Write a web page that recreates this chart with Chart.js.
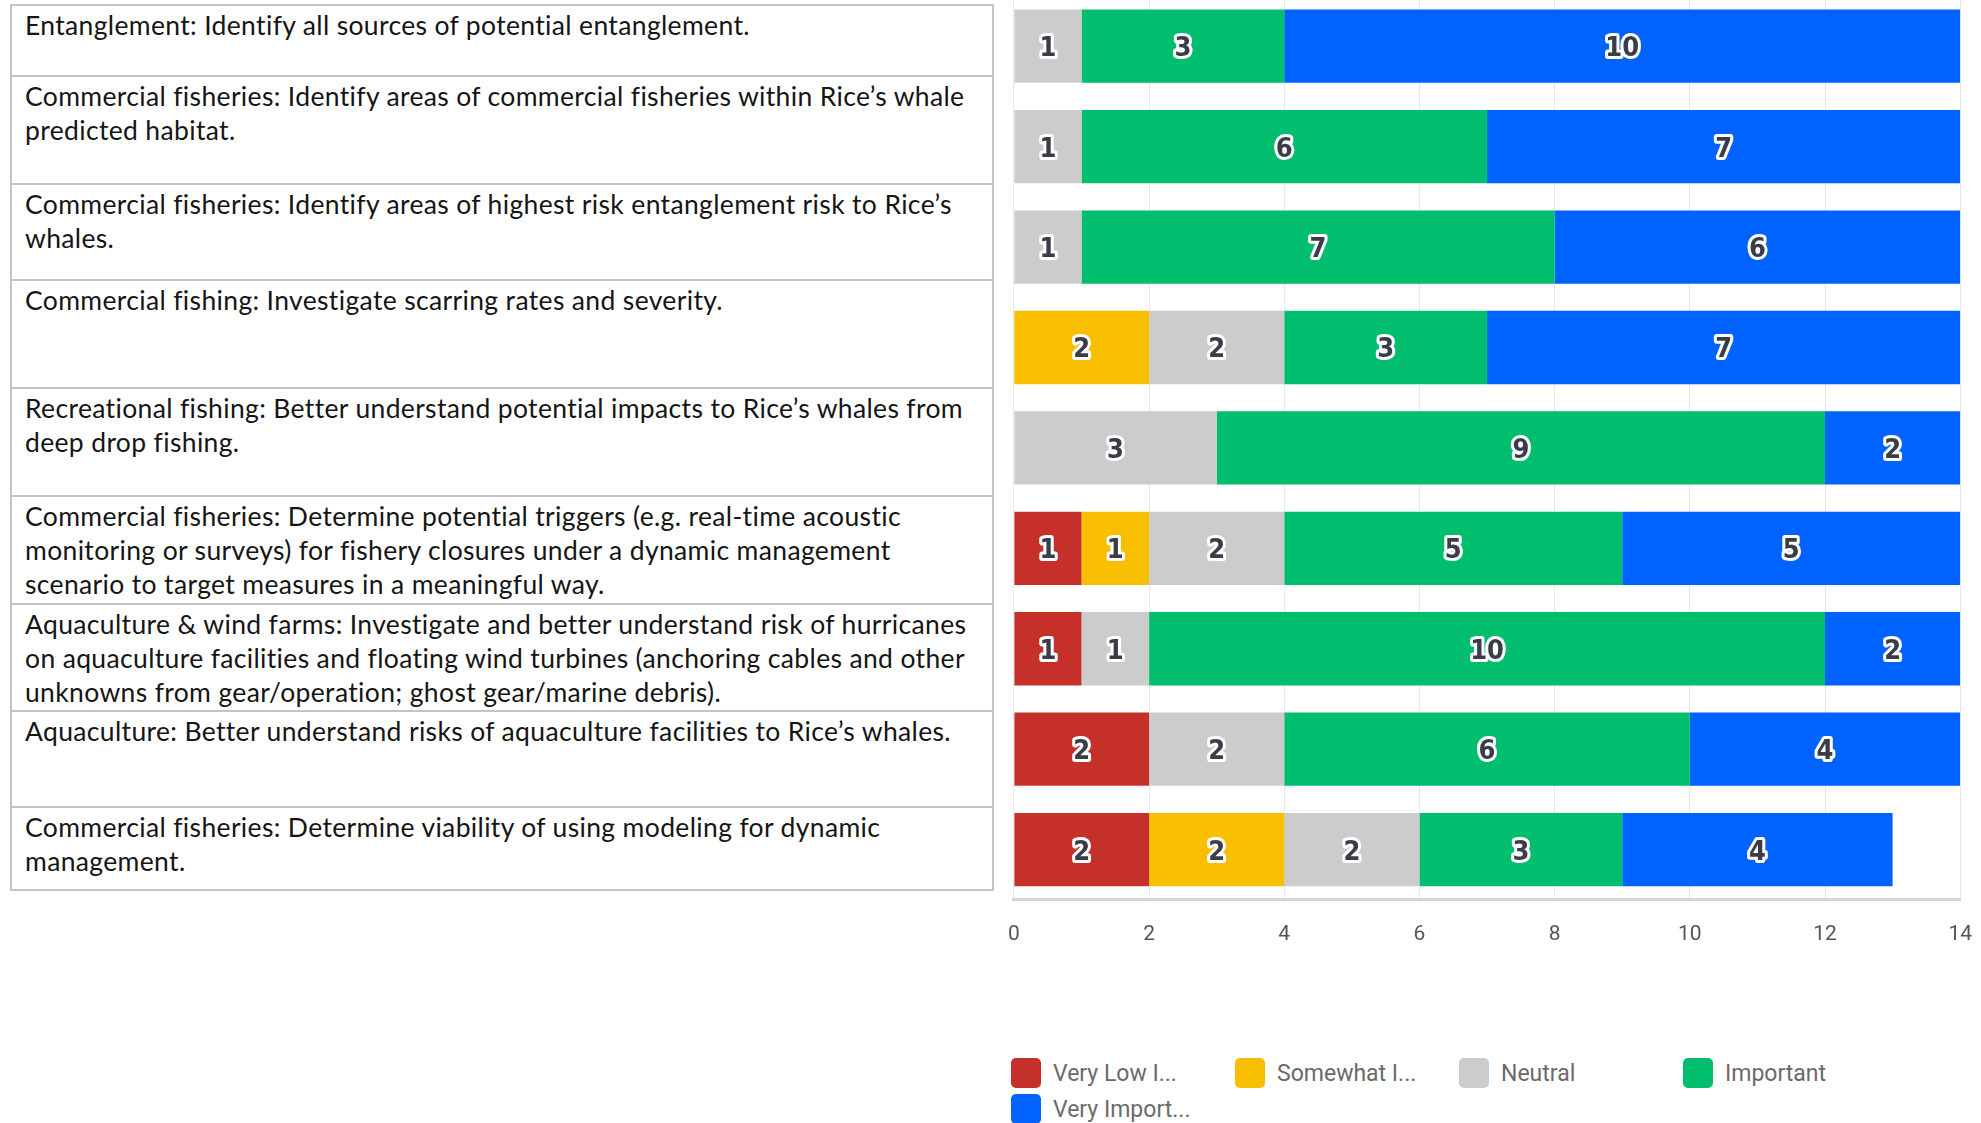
<!DOCTYPE html>
<html>
<head>
<meta charset="utf-8">
<script src="https://cdn.jsdelivr.net/npm/chart.js@4.4.1/dist/chart.umd.min.js"></script>
<style>
  html, body { margin: 0; padding: 0; background: #fff; width: 1981px; height: 1123px; overflow: hidden; }
  #topics { position: absolute; left: 10px; top: 4px; width: 984px; }
  .row {
    box-sizing: border-box;
    border: 2px solid #c4c4c4;
    border-bottom: none;
    padding: 2px 0 0 13px;
    font-family: Lato, "Open Sans", sans-serif;
    font-size: 26.5px;
    letter-spacing: 0.35px;
    line-height: 34px;
    color: #151515;
    white-space: pre;
  }
  .row:last-child { border-bottom: 2px solid #c4c4c4; }
  /* the x scale reserves tick padding plus half a label on each side */
  #chartBox { position: absolute; left: 986px; top: -4px; width: 1008px; height: 983px; }
  #legend {
    position: absolute; left: 1011px; top: 1058px;
    display: grid; grid-template-columns: repeat(4, 224px); row-gap: 6px;
    font-family: Roboto, sans-serif; font-size: 23px; color: #6a6a6a;
  }
  .item { display: flex; align-items: center; height: 30px; }
  .swatch { width: 30px; height: 30px; border-radius: 5px; margin-right: 12px; }
</style>
</head>
<body>
<div id="topics"></div>
<div id="chartBox"><canvas id="rankChart"></canvas></div>
<div id="legend"></div>

<script>
// ================= DATA =================
const categories = [
  "Entanglement: Identify all sources of potential entanglement.",
  "Commercial fisheries: Identify areas of commercial fisheries within Rice’s whale\npredicted habitat.",
  "Commercial fisheries: Identify areas of highest risk entanglement risk to Rice’s\nwhales.",
  "Commercial fishing: Investigate scarring rates and severity.",
  "Recreational fishing: Better understand potential impacts to Rice’s whales from\ndeep drop fishing.",
  "Commercial fisheries: Determine potential triggers (e.g. real-time acoustic\nmonitoring or surveys) for fishery closures under a dynamic management\nscenario to target measures in a meaningful way.",
  "Aquaculture & wind farms: Investigate and better understand risk of hurricanes\non aquaculture facilities and floating wind turbines (anchoring cables and other\nunknowns from gear/operation; ghost gear/marine debris).",
  "Aquaculture: Better understand risks of aquaculture facilities to Rice’s whales.",
  "Commercial fisheries: Determine viability of using modeling for dynamic\nmanagement."
];

const seriesNames = ["Very Low I...", "Somewhat I...", "Neutral", "Important", "Very Import..."];

const veryLow       = [0, 0, 0, 0, 0, 1, 1, 2, 2];
const somewhat      = [0, 0, 0, 2, 0, 1, 0, 0, 2];
const neutral       = [1, 1, 1, 2, 3, 2, 1, 2, 2];
const important     = [3, 6, 7, 3, 9, 5, 10, 6, 3];
const veryImportant = [10, 7, 6, 7, 2, 5, 2, 4, 4];

const xTicks = [0, 2, 4, 6, 8, 10, 12, 14];

// ================= STYLE =================
const colors = ["#c5302a", "#f8be00", "#cccccc", "#00be6e", "#0062ff"];
const rowHeights = [71, 108, 96, 108, 108, 108, 107, 96, 85];

// ================= TOPIC TABLE =================
const topics = document.getElementById("topics");
categories.forEach((text, i) => {
  const row = document.createElement("div");
  row.className = "row";
  row.style.height = rowHeights[i] + "px";
  row.textContent = text;
  topics.appendChild(row);
});

// ================= VALUE LABELS =================
const valueLabels = {
  id: "valueLabels",
  afterDatasetsDraw(chart) {
    const ctx = chart.ctx;
    ctx.save();
    ctx.font = 'bold 27px "DejaVu Sans Condensed", "DejaVu Sans", sans-serif';
    ctx.textAlign = "center";
    ctx.textBaseline = "middle";
    ctx.lineJoin = "round";
    chart.data.datasets.forEach((ds, i) => {
      chart.getDatasetMeta(i).data.forEach((bar, j) => {
        const v = ds.data[j];
        if (!v) return;
        const x = (bar.x + bar.base) / 2;
        ctx.lineWidth = 6;
        ctx.strokeStyle = "#ffffff";
        ctx.strokeText(String(v), x, bar.y + 3);
        ctx.fillStyle = "#3a3c48";
        ctx.fillText(String(v), x, bar.y + 3);
      });
    });
    ctx.restore();
  }
};

// ================= BAR CHART =================
const seriesData = [veryLow, somewhat, neutral, important, veryImportant];

const chart = new Chart(document.getElementById("rankChart"), {
  type: "bar",
  data: {
    labels: categories,
    datasets: seriesNames.map((name, i) => ({
      label: name,
      data: seriesData[i],
      backgroundColor: colors[i],
      borderWidth: 0,
      categoryPercentage: 1,
      barPercentage: 0.73
    }))
  },
  options: {
    indexAxis: "y",
    responsive: true,
    maintainAspectRatio: false,
    animation: false,
    layout: { padding: { left: 0, right: 0, top: 0, bottom: 10 } },
    plugins: {
      legend: { display: false },
      tooltip: { enabled: false }
    },
    scales: {
      x: {
        stacked: true,
        min: 0,
        max: 14,
        afterBuildTicks: axis => { axis.ticks = xTicks.map(v => ({ value: v })); },
        grid: { color: "#e8e8e8", lineWidth: 1, drawTicks: false },
        border: { color: "#d4d4d4", width: 3 },
        ticks: {
          padding: 22,
          color: "#555555",
          font: { family: "Roboto, sans-serif", size: 21 }
        }
      },
      y: {
        stacked: true,
        display: false
      }
    }
  },
  plugins: [valueLabels]
});

// ================= LEGEND =================
const legend = document.getElementById("legend");
chart.data.datasets.forEach(ds => {
  const item = document.createElement("div");
  item.className = "item";
  const sw = document.createElement("span");
  sw.className = "swatch";
  sw.style.background = ds.backgroundColor;
  const label = document.createElement("span");
  label.textContent = ds.label;
  item.appendChild(sw);
  item.appendChild(label);
  legend.appendChild(item);
});
</script>
</body>
</html>
